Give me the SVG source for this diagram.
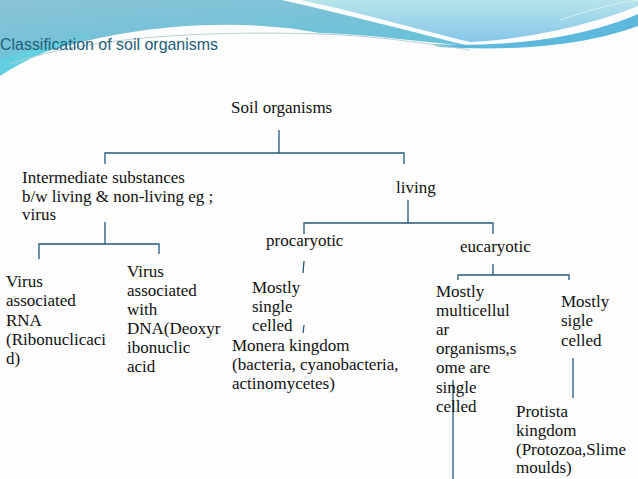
<svg xmlns="http://www.w3.org/2000/svg" width="638" height="479" viewBox="0 0 638 479">
<defs>
<linearGradient id="gL" x1="0" y1="0" x2="0.6" y2="1">
<stop offset="0" stop-color="#8bc3d6"/>
<stop offset="1" stop-color="#62c2da"/>
</linearGradient>
<linearGradient id="gS" x1="0" y1="0" x2="0" y2="1">
<stop offset="0" stop-color="#b6e4ea"/>
<stop offset="1" stop-color="#86c6ea"/>
</linearGradient>
<style>
text{font-family:'Liberation Serif','DejaVu Serif',serif;font-size:17px;fill:#111}
.c line,.c path{stroke:#23587a;stroke-width:1.3;fill:none}
</style>
</defs>
<rect width="638" height="479" fill="#fdfdfd"/>
<g id="header">
<path d="M300,0 L638,0 L638,6 C590,26 520,40 470,42 C420,30 350,10 300,0 Z" fill="url(#gS)"/>
<path d="M0,0 L282,0 C345,14 420,34 470,46 C420,42 370,34 320,33 C240,18 120,20 0,68 Z" fill="url(#gL)"/>
<path d="M430,44 C520,48 590,35 638,14 L638,26 C590,44 520,52 440,47 Z" fill="#5db9dc"/>
<path d="M0,60 C30,50 60,42 95,33 C55,46 25,60 0,76 Z" fill="#62d0e0"/>
<path d="M10,64 C80,40 180,30 320,34 C380,36 430,44 470,50" stroke="#b9cfd6" stroke-width="1" fill="none"/>
<path d="M560,20 C590,10 615,3 638,0" stroke="#d6eef3" stroke-width="1" fill="none"/>
<text x="0" y="50" style="font-family:'Liberation Sans',Arial,sans-serif;font-size:17px;fill:#1f5d78" textLength="218" lengthAdjust="spacingAndGlyphs">Classification of soil organisms</text>
</g>
<g id="connectors" class="c">
<path d="M279,130 V153 M105,164 V153 H404 V164"/>
<path d="M408,200 V223 M304,234 V223 H493 V234"/>
<path d="M105,222 V244 M39,259 V244 H159 V254"/>
<path d="M493,264 V275 M458,280 V275 H569 V280"/>
<line x1="304" y1="261" x2="303" y2="273"/>
<line x1="304" y1="325" x2="303" y2="333"/>
<line x1="573" y1="358" x2="573" y2="398"/>
<line x1="453" y1="380" x2="453" y2="479"/>
</g>
<g id="n-soil"><text x="231" y="113">Soil organisms</text></g>
<g id="n-intermediate"><text><tspan x="22" y="183">Intermediate substances</tspan><tspan x="22" y="202">b/w living &amp; non-living eg ;</tspan><tspan x="22" y="220">virus</tspan></text></g>
<g id="n-living"><text x="396" y="193">living</text></g>
<g id="n-procaryotic"><text x="266" y="246">procaryotic</text></g>
<g id="n-eucaryotic"><text x="460" y="252">eucaryotic</text></g>
<g id="n-rna"><text><tspan x="6" y="287">Virus</tspan><tspan x="6" y="306">associated</tspan><tspan x="6" y="326">RNA</tspan><tspan x="6" y="345">(Ribonuclicaci</tspan><tspan x="6" y="364">d)</tspan></text></g>
<g id="n-dna"><text><tspan x="127" y="277">Virus</tspan><tspan x="127" y="296">associated</tspan><tspan x="127" y="315">with</tspan><tspan x="127" y="334">DNA(Deoxyr</tspan><tspan x="127" y="353">ibonuclic</tspan><tspan x="127" y="372">acid</tspan></text></g>
<g id="n-single"><text><tspan x="252" y="293">Mostly</tspan><tspan x="252" y="312">single</tspan><tspan x="252" y="331">celled</tspan></text></g>
<g id="n-monera"><text><tspan x="232" y="351">Monera kingdom</tspan><tspan x="232" y="370">(bacteria, cyanobacteria,</tspan><tspan x="232" y="389">actinomycetes)</tspan></text></g>
<g id="n-multi"><text><tspan x="436" y="297">Mostly</tspan><tspan x="436" y="316">multicellul</tspan><tspan x="436" y="335">ar</tspan><tspan x="436" y="354">organisms,s</tspan><tspan x="436" y="373">ome are</tspan><tspan x="436" y="393">single</tspan><tspan x="436" y="412">celled</tspan></text></g>
<g id="n-sigle"><text><tspan x="561" y="307">Mostly</tspan><tspan x="561" y="326">sigle</tspan><tspan x="561" y="346">celled</tspan></text></g>
<g id="n-protista"><text><tspan x="516" y="417">Protista</tspan><tspan x="516" y="436">kingdom</tspan><tspan x="516" y="455">(Protozoa,Slime</tspan><tspan x="516" y="473">moulds)</tspan></text></g>
</svg>
